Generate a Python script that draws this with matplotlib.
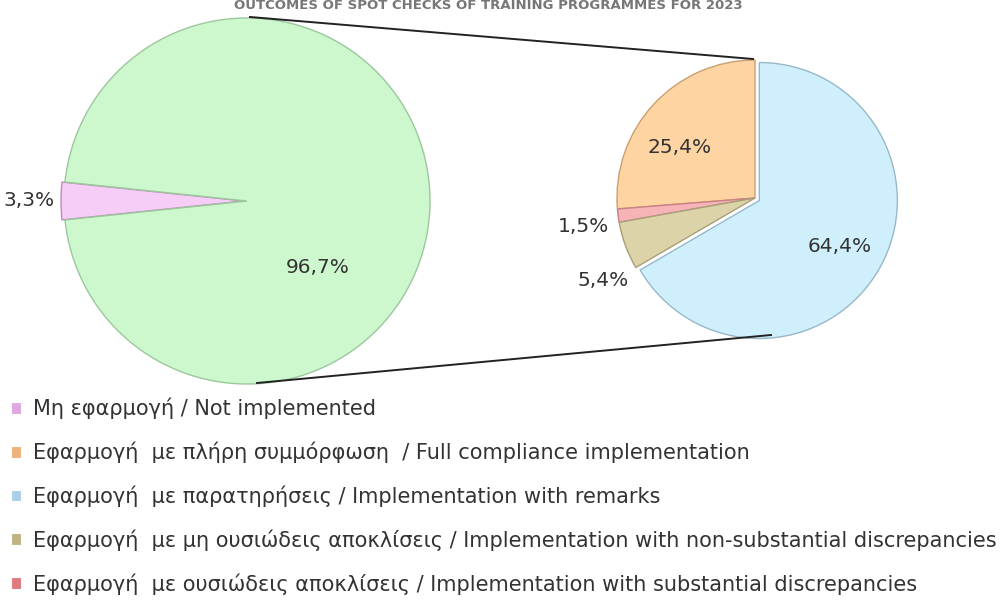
import matplotlib
matplotlib.use("Agg")
import matplotlib.pyplot as plt
from matplotlib.patches import Patch
import numpy as np

# ---------------- data ----------------
left_labels = ["Μη εφαρμογή / Not implemented", "Εφαρμογή (σύνολο)"]
left_values = [3.3, 96.7]
right_labels = ["Εφαρμογή με πλήρη συμμόρφωση  / Full compliance implementation",
                "Εφαρμογή με ουσιώδεις αποκλίσεις / Implementation with substantial discrepancies",
                "Εφαρμογή με μη ουσιώδεις αποκλίσεις / Implementation with non-substantial discrepancies",
                "Εφαρμογή με παρατηρήσεις / Implementation with remarks"]
right_values = [25.4, 1.5, 5.4, 64.4]
legend_labels = ["Μη εφαρμογή / Not implemented",
                 "Εφαρμογή  με πλήρη συμμόρφωση  / Full compliance implementation",
                 "Εφαρμογή  με παρατηρήσεις / Implementation with remarks",
                 "Εφαρμογή  με μη ουσιώδεις αποκλίσεις / Implementation with non-substantial discrepancies",
                 "Εφαρμογή  με ουσιώδεις αποκλίσεις / Implementation with substantial discrepancies"]
title = "OUTCOMES OF SPOT CHECKS OF TRAINING PROGRAMMES FOR 2023"

# ---------------- style / layout ----------------
left_colors = ["#f6cdf6", "#cdf7cd"]
left_edges = ["#b58db5", "#9cc79c"]
right_colors = ["#fdd4a2", "#f6b3b8", "#dcd3a8", "#d0effd"]
right_edges = ["#c9a070", "#c98085", "#a89f78", "#98b8c8"]
legend_colors = ["#e0a8e0", "#eeb27a", "#a9cfe9", "#bdb384", "#e07a7e"]

W, H = 1003, 601
fig = plt.figure(figsize=(W / 100, H / 100), dpi=100)
ax = fig.add_axes([0, 0, 1, 1])

lc, lr = (247, 400), 183
rc, rr = (755, 403), 138

start_left = 180 - left_values[0] / sum(left_values) * 360 / 2
lw_, _ = ax.pie(left_values, colors=left_colors, center=lc, radius=lr,
                startangle=start_left, counterclock=True,
                explode=[3, 0],
                wedgeprops=dict(linewidth=1.0), frame=True)
rw_, _ = ax.pie(right_values, colors=right_colors, center=rc, radius=rr,
                startangle=90, counterclock=True,
                explode=[0, 0, 0, 5],
                wedgeprops=dict(linewidth=1.0), frame=True)
for w, e in zip(lw_, left_edges):
    w.set_edgecolor(e)
for w, e in zip(rw_, right_edges):
    w.set_edgecolor(e)

ax.set_xlim(0, W)
ax.set_ylim(0, H)
ax.set_aspect("equal")
ax.axis("off")

def fmt(v):
    return f"{v:.1f}".replace(".", ",") + "%"

# label placement: (angle in degrees, distance as fraction of radius)
left_lab_pos = [(180, 1.19), (-43, 0.53)]
right_lab_pos = [(146, 0.66), (189.5, 1.26), (208.5, 1.25), (-30, 0.71)]

fs = 14.5
for v, (a, d) in zip(left_values, left_lab_pos):
    t = np.deg2rad(a)
    ax.text(lc[0] + d * lr * np.cos(t), lc[1] + d * lr * np.sin(t), fmt(v),
            ha="center", va="center", fontsize=fs, color="#333333")
for v, (a, d) in zip(right_values, right_lab_pos):
    t = np.deg2rad(a)
    ax.text(rc[0] + d * rr * np.cos(t), rc[1] + d * rr * np.sin(t), fmt(v),
            ha="center", va="center", fontsize=fs, color="#333333")

# connector lines between pies (top and bottom)
ax.plot([lc[0] + 3, rc[0] - 2], [lc[1] + lr + 1, rc[1] + rr + 1], color="#222222", lw=1.4)
ax.plot([lc[0] + 10, rc[0] + 16], [lc[1] - lr + 1, rc[1] - rr + 1], color="#222222", lw=1.4)

# title at the very top
fig.text(0.487, 0.991, title, ha="center", va="center", fontsize=9.5,
         fontweight="bold", color="#777777")

handles = [Patch(facecolor=c, edgecolor="white", linewidth=0.8) for c in legend_colors]
leg = fig.legend(handles, legend_labels, loc="upper left",
                 bbox_to_anchor=(0.011, 0.338), frameon=False,
                 fontsize=15, labelspacing=1.07, handlelength=0.5,
                 handleheight=0.5, handletextpad=0.55, labelcolor="#333333",
                 borderpad=0.0, borderaxespad=0.0)

fig.savefig("out.png", dpi=100)
